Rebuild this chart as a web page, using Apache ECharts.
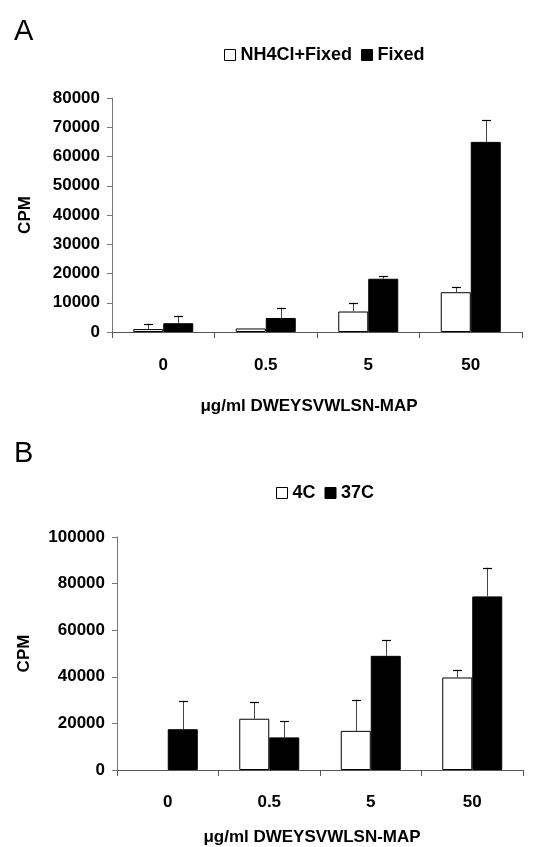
<!DOCTYPE html>
<html>
<head>
<meta charset="utf-8">
<script src="https://cdn.jsdelivr.net/npm/echarts@6/dist/echarts.min.js"></script>
<style>
html,body{margin:0;padding:0;background:#fff;}
#chart{width:537px;height:847px;}
</style>
</head>
<body>
<div id="chart"></div>
<script>
// ---- Data ----
const categories = ['0', '0.5', '5', '50'];

const panelA_seriesNames = ['NH4Cl+Fixed', 'Fixed'];
const panelA_white = [1000, 1200, 7000, 13600];
const panelA_whiteErr = [1800, 0, 3000, 1800];
const panelA_black = [3000, 4800, 18200, 65000];
const panelA_blackErr = [2500, 3500, 900, 7400];

const panelB_seriesNames = ['4C', '37C'];
const panelB_white = [null, 22000, 16800, 39700];
const panelB_whiteErr = [0, 7000, 13300, 3300];
const panelB_black = [17500, 14000, 49000, 74500];
const panelB_blackErr = [12000, 7000, 6600, 12300];

const xAxisTitle = 'μg/ml DWEYSVWLSN-MAP';
const yAxisTitle = 'CPM';

// ---- Styles ----
const FONT = '"Liberation Sans", Arial, Helvetica, sans-serif';
const BAR_W = 30;
const whiteStyle = {color: '#ffffff', borderColor: '#000000', borderWidth: 1};
const blackStyle = {color: '#000000', borderColor: '#000000', borderWidth: 1};

function errSeries(values, errs, side, axisIdx) {
  return {
    type: 'custom',
    xAxisIndex: axisIdx,
    yAxisIndex: axisIdx,
    silent: true,
    z: 5,
    data: values.map((v, i) => [i, v == null ? 0 : v, (v == null ? 0 : v) + errs[i], errs[i]]),
    renderItem: function (params, api) {
      if (!api.value(3)) return null;
      const i = api.value(0);
      const base = api.coord([i, api.value(1)]);
      const top = api.coord([i, api.value(2)]);
      const x = Math.round(base[0] + side * BAR_W / 2) + 0.5;
      const capW = 9;
      return {
        type: 'group',
        children: [
          {type: 'line', shape: {x1: x, y1: base[1], x2: x, y2: top[1]},
           style: {stroke: '#444', lineWidth: 1}},
          {type: 'line', shape: {x1: x - capW / 2, y1: Math.round(top[1]) + 0.5, x2: x + capW / 2, y2: Math.round(top[1]) + 0.5},
           style: {stroke: '#000', lineWidth: 1.2}}
        ]
      };
    }
  };
}

const axisLabelStyle = {fontFamily: FONT, fontWeight: 'bold', fontSize: 17, color: '#000'};

function makeX(gridIndex, labelMargin, nameGap) {
  return {
    type: 'category',
    gridIndex: gridIndex,
    data: categories,
    boundaryGap: true,
    axisLine: {lineStyle: {color: '#555', width: 1}},
    axisTick: {show: true, inside: false, length: 6, alignWithLabel: false, lineStyle: {color: '#555'},
      interval: 0},
    axisLabel: Object.assign({margin: labelMargin, interval: 0}, axisLabelStyle),
    name: xAxisTitle,
    nameLocation: 'middle',
    nameGap: nameGap,
    nameTextStyle: {fontFamily: FONT, fontWeight: 'bold', fontSize: 17, color: '#000', padding: [0, 16, 0, 0]}
  };
}

function makeY(gridIndex, max, interval, nameGap) {
  return {
    type: 'value',
    gridIndex: gridIndex,
    min: 0,
    max: max,
    interval: interval,
    splitLine: {show: false},
    axisLine: {show: true, lineStyle: {color: '#777', width: 1}},
    axisTick: {show: true, length: 5, lineStyle: {color: '#777'}},
    axisLabel: Object.assign({margin: 12, formatter: function (v) { return String(v); }}, axisLabelStyle),
    name: yAxisTitle,
    nameLocation: 'middle',
    nameGap: nameGap,
    nameRotate: 90,
    nameTextStyle: {fontFamily: FONT, fontWeight: 'bold', fontSize: 17, color: '#000'}
  };
}

const chart = echarts.init(document.getElementById('chart'), null, {renderer: 'canvas'});

const option = {
  backgroundColor: '#ffffff',
  animation: false,
  title: [
    {text: 'A', left: 9, top: 12, textStyle: {fontFamily: FONT, fontWeight: 'normal', fontSize: 29, color: '#000'}},
    {text: 'B', left: 9, top: 434, textStyle: {fontFamily: FONT, fontWeight: 'normal', fontSize: 29, color: '#000'}}
  ],
  legend: [
    {
      left: 219, top: 41,
      itemWidth: 11, itemHeight: 11, itemGap: 9,
      icon: 'rect',
      textStyle: {fontFamily: FONT, fontWeight: 'bold', fontSize: 18, color: '#000'},
      data: [
        {name: panelA_seriesNames[0], itemStyle: whiteStyle},
        {name: panelA_seriesNames[1], itemStyle: blackStyle}
      ]
    },
    {
      left: 271, top: 479,
      itemWidth: 11, itemHeight: 11, itemGap: 9,
      icon: 'rect',
      textStyle: {fontFamily: FONT, fontWeight: 'bold', fontSize: 18, color: '#000'},
      data: [
        {name: panelB_seriesNames[0], itemStyle: whiteStyle},
        {name: panelB_seriesNames[1], itemStyle: blackStyle}
      ]
    }
  ],
  grid: [
    {left: 112, right: 15, top: 98, height: 234},
    {left: 117, right: 14, top: 537, height: 235}
  ],
  xAxis: [makeX(0, 25, 66), makeX(1, 24, 59)],
  yAxis: [makeY(0, 80000, 10000, 78), makeY(1, 100000, 20000, 84)],
  series: [
    {name: panelA_seriesNames[0], type: 'bar', xAxisIndex: 0, yAxisIndex: 0, data: panelA_white,
     barWidth: BAR_W, barGap: '0%', itemStyle: whiteStyle},
    {name: panelA_seriesNames[1], type: 'bar', xAxisIndex: 0, yAxisIndex: 0, data: panelA_black,
     barWidth: BAR_W, barGap: '0%', itemStyle: blackStyle},
    errSeries(panelA_white, panelA_whiteErr, -1, 0),
    errSeries(panelA_black, panelA_blackErr, 1, 0),
    {name: panelB_seriesNames[0], type: 'bar', xAxisIndex: 1, yAxisIndex: 1, data: panelB_white,
     barWidth: BAR_W, barGap: '0%', itemStyle: whiteStyle},
    {name: panelB_seriesNames[1], type: 'bar', xAxisIndex: 1, yAxisIndex: 1, data: panelB_black,
     barWidth: BAR_W, barGap: '0%', itemStyle: blackStyle},
    errSeries(panelB_white, panelB_whiteErr, -1, 1),
    errSeries(panelB_black, panelB_blackErr, 1, 1)
  ]
};
chart.setOption(option);
</script>
</body>
</html>
